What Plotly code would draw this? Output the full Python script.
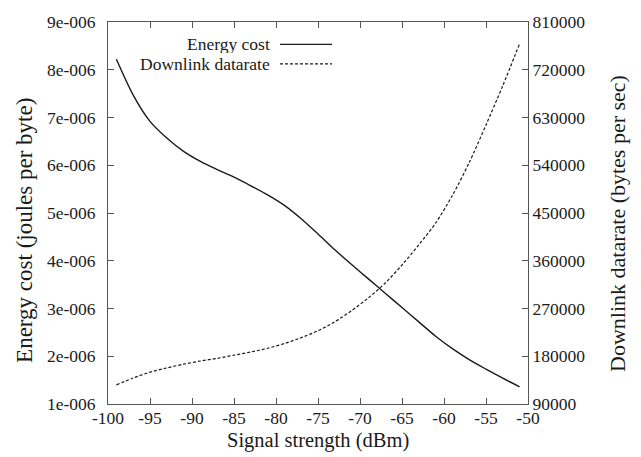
import plotly.graph_objects as go

signal_dbm = [-99, -97, -95, -93, -91, -89, -87, -85, -83, -81, -79, -77, -75,
              -73, -71, -69, -67, -65, -63, -61, -59, -57, -55, -53, -51]
energy_cost = [8.22e-6, 7.47e-6, 6.92e-6, 6.57e-6, 6.29e-6, 6.08e-6, 5.91e-6, 5.75e-6,
               5.57e-6, 5.38e-6, 5.16e-6, 4.88e-6, 4.56e-6, 4.23e-6, 3.92e-6, 3.62e-6,
               3.32e-6, 3.02e-6, 2.72e-6, 2.42e-6, 2.16e-6, 1.93e-6, 1.73e-6, 1.54e-6, 1.36e-6]
downlink_rate = [126000, 139000, 150000, 158000, 165000, 171000, 176000, 182000,
                 188000, 195000, 204000, 215000, 228000, 245000, 266000, 290000,
                 318000, 352000, 390000, 431000, 483000, 545000, 616000, 690000, 769000]

x_ticks = list(range(-100, -49, 5))
x_labels = [str(v) for v in x_ticks]
y1_ticks = [1e-6, 2e-6, 3e-6, 4e-6, 5e-6, 6e-6, 7e-6, 8e-6, 9e-6]
y1_labels = ["1e-006", "2e-006", "3e-006", "4e-006", "5e-006", "6e-006", "7e-006", "8e-006", "9e-006"]
y2_ticks = [90000, 180000, 270000, 360000, 450000, 540000, 630000, 720000, 810000]
y2_labels = [str(v) for v in y2_ticks]

FONT = "Liberation Serif, Times New Roman, Times, serif"
INK = "#1a1a1a"
AX = "#555555"

fig = go.Figure()
fig.add_trace(go.Scatter(x=signal_dbm, y=energy_cost, mode="lines", name="Energy cost",
                         line=dict(color=INK, width=1.4, shape="spline", smoothing=0.8),
                         xaxis="x", yaxis="y"))
fig.add_trace(go.Scatter(x=signal_dbm, y=downlink_rate, mode="lines", name="Downlink datarate",
                         line=dict(color=INK, width=1.2, dash="3px,2px", shape="spline", smoothing=0.8),
                         xaxis="x2", yaxis="y2"))

L, R, T, B = 108, 113, 20, 53
W, H = 641, 457
pw = W - L - R
ph = H - T - B

def px_x(px):
    return (px - L) / pw

def px_y(py):
    return 1 - (py - T) / ph

fig.update_layout(
    width=W, height=H,
    margin=dict(l=L, r=R, t=T, b=B),
    paper_bgcolor="white", plot_bgcolor="white",
    showlegend=False,
    font=dict(family=FONT, color=INK, size=17.5),
    xaxis=dict(range=[-100, -50], tickvals=x_ticks, ticktext=x_labels, ticks="inside", ticklen=6,
               tickcolor=AX, showline=True, linecolor=AX, linewidth=1,
               showgrid=False, zeroline=False, tickfont=dict(size=17.5, family=FONT),
               ticklabelstandoff=-2),
    xaxis2=dict(range=[-100, -50], tickvals=x_ticks, ticks="inside", ticklen=6, overlaying="x",
                side="top", anchor="y2", showticklabels=False, tickcolor=AX, showline=True,
                linecolor=AX, linewidth=1, showgrid=False, zeroline=False),
    yaxis=dict(range=[1e-6, 9e-6], tickvals=y1_ticks, ticktext=y1_labels, ticks="inside",
               ticklen=6, tickcolor=AX, showline=True, linecolor=AX, linewidth=1,
               showgrid=False, zeroline=False, tickfont=dict(size=17.5, family=FONT),
               ticklabelstandoff=8),
    yaxis2=dict(range=[90000, 810000], tickvals=y2_ticks, ticktext=y2_labels, ticks="inside",
                ticklen=6, tickcolor=AX, showline=True, linecolor=AX, linewidth=1,
                overlaying="y", side="right", anchor="x2", showgrid=False, zeroline=False,
                tickfont=dict(size=17.5, family=FONT)),
)

# axis titles
fig.add_annotation(x=px_x(318), y=px_y(441), xref="paper", yref="paper", text="Signal strength (dBm)",
                   showarrow=False, xanchor="center", yanchor="middle",
                   font=dict(size=20.5, family=FONT, color=INK))
fig.add_annotation(x=px_x(25), y=px_y(230), xref="paper", yref="paper",
                   text="Energy cost (joules per byte)", textangle=-90, showarrow=False,
                   xanchor="center", yanchor="middle", font=dict(size=23, family=FONT, color=INK))
fig.add_annotation(x=px_x(618), y=px_y(223), xref="paper", yref="paper",
                   text="Downlink datarate (bytes per sec)", textangle=-90, showarrow=False,
                   xanchor="center", yanchor="middle", font=dict(size=22, family=FONT, color=INK))

# gnuplot-style key: text right-aligned, sample line on the right
legend_items = [("Energy cost", dict(color=INK, width=1.4)),
                ("Downlink datarate", dict(color=INK, width=1.2, dash="3px,2px"))]
for i, (label, ln) in enumerate(legend_items):
    yp = px_y(42.5 + i * 19.5)
    fig.add_annotation(x=px_x(271), y=yp, xref="paper", yref="paper", text=label, showarrow=False,
                       xanchor="right", yanchor="middle", borderpad=0, height=18,
                       font=dict(size=17.5, family=FONT, color=INK))
    fig.add_shape(type="line", xref="paper", yref="paper",
                  x0=px_x(280), x1=px_x(332), y0=yp, y1=yp, line=ln)

fig.write_html("out.html", config={"displayModeBar": False},
               post_script="document.body.style.margin='0px';document.body.style.overflow='hidden';")
